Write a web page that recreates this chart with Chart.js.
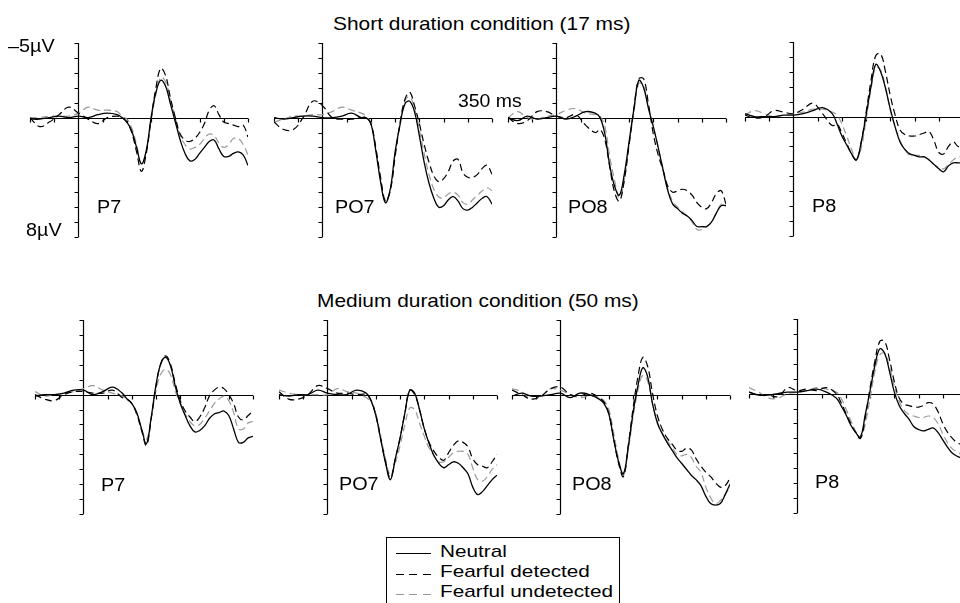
<!DOCTYPE html>
<html>
<head>
<meta charset="utf-8">
<script src="https://cdn.jsdelivr.net/npm/chart.js@4/dist/chart.umd.min.js"></script>
<style>
  html, body { margin: 0; padding: 0; background: #fff; }
  #page { position: relative; width: 960px; height: 603px; overflow: hidden; font-family: "Liberation Sans", Arial, sans-serif; color: #000; }
  canvas.panel { position: absolute; }
  .txt { position: absolute; white-space: nowrap; transform-origin: 0 0; line-height: 1; }
  #legend { position: absolute; left: 386px; top: 537px; width: 234px; height: 90px; border: 1px solid #000; box-sizing: border-box; }
  .lg-line { position: absolute; left: 9px; width: 35px; height: 1px; }
</style>
</head>
<body>
<div id="page"></div>
<script>
// Time points (ms)
const times = [-100, -80, -60, -40, -20, 0, 20, 40, 60, 80,
  90, 100, 110, 120, 130, 140, 150, 160, 170, 180, 190, 200, 210, 220, 230,
  240, 250, 260, 270, 280, 290, 300, 310, 320, 330, 340, 350];

// Short duration condition (17 ms), values in µV
const shortP7Neutral = [0.1, 0.1, 0.0, -0.1, 0.0, -0.1, 0.0, -0.2, -0.3, -0.2, 0.0, 0.3, 0.9, 2.0, 3.1, 2.2, 0.0, -1.7, -2.5, -2.1, -0.9, 0.3, 1.5, 2.4, 2.9, 2.8, 2.4, 2.0, 1.6, 1.5, 2.1, 2.6, 2.6, 2.4, 2.3, 2.5, 3.2];
const shortP7Detected = [0.0, 0.6, 0.3, -0.2, -0.7, -0.3, 0.1, 0.4, 0.0, -0.1, 0.0, 0.3, 1.0, 2.3, 3.6, 2.4, 0.1, -2.0, -3.3, -2.8, -1.3, 0.0, 1.1, 1.5, 1.6, 1.4, 1.0, 0.4, -0.5, -0.8, -0.2, 0.3, 0.4, 0.5, 0.6, 0.5, 1.3];
const shortP7Undetected = [0.0, 0.0, -0.1, -0.1, -0.1, -0.3, -0.7, -0.5, -0.5, -0.4, -0.1, 0.1, 0.7, 1.8, 3.1, 2.3, 0.2, -1.6, -2.7, -2.4, -1.2, 0.0, 1.2, 1.8, 2.1, 2.0, 1.8, 1.4, 1.1, 1.2, 1.7, 2.0, 1.8, 1.4, 1.4, 1.8, 2.5];

const shortPO7Neutral = [0.0, 0.1, 0.0, -0.1, -0.1, 0.0, 0.0, -0.1, -0.3, 0.0, 0.0, 0.4, 2.2, 4.3, 5.7, 4.8, 2.3, 0.5, -0.9, -1.1, -0.4, 1.2, 3.0, 4.4, 5.4, 6.0, 5.9, 5.5, 5.3, 5.6, 6.1, 6.2, 6.0, 5.7, 5.4, 5.3, 5.8];
const shortPO7Detected = [0.3, 0.8, 0.8, 0.0, -1.1, -0.8, 0.0, 0.1, 0.1, 0.0, 0.0, 0.4, 2.0, 4.0, 5.6, 4.9, 2.6, 0.4, -1.2, -1.7, -0.8, 0.4, 1.8, 3.0, 3.9, 4.3, 4.1, 3.6, 2.9, 2.8, 3.7, 4.0, 4.0, 3.8, 3.4, 3.2, 3.8];
const shortPO7Undetected = [0.3, 0.1, -0.1, -0.1, -0.2, -0.2, -0.4, -0.7, -0.5, -0.3, -0.1, 0.4, 2.0, 4.1, 5.6, 4.9, 2.5, 0.4, -1.1, -1.4, -0.6, 0.8, 2.4, 3.8, 4.8, 5.3, 5.4, 5.1, 5.0, 5.2, 5.7, 5.8, 5.5, 5.2, 4.9, 4.7, 4.9];

const shortPO8Neutral = [0.0, 0.2, -0.1, 0.1, 0.0, -0.1, 0.1, -0.1, -0.4, -0.3, 0.0, 1.1, 3.2, 4.6, 5.2, 3.8, 1.6, -0.6, -2.5, -2.0, -0.6, 0.6, 2.0, 3.5, 4.9, 5.8, 6.1, 6.4, 6.6, 6.9, 7.3, 7.3, 7.3, 7.0, 6.4, 5.9, 5.9];
const shortPO8Detected = [0.0, 0.4, 0.2, -0.4, -0.4, -0.1, 0.0, -0.2, 0.5, 1.0, 0.8, 1.5, 3.3, 5.0, 5.6, 4.2, 1.8, -0.6, -2.6, -2.6, -0.9, 1.1, 2.5, 3.5, 4.6, 5.0, 4.9, 4.8, 4.9, 5.2, 5.7, 6.0, 6.1, 5.7, 5.1, 4.9, 5.8];
const shortPO8Undetected = [0.0, -0.4, 0.0, 0.1, -0.1, -0.2, -0.5, -0.6, -0.3, -0.2, -0.1, 0.6, 2.6, 4.2, 5.4, 4.2, 1.8, -0.4, -2.3, -2.1, -0.7, 0.6, 2.0, 3.4, 4.8, 5.6, 6.0, 6.3, 6.6, 7.0, 7.5, 7.5, 7.3, 7.0, 6.4, 5.8, 5.8];

const shortP8Neutral = [-0.2, 0.0, 0.0, 0.0, -0.1, -0.1, -0.2, -0.4, -0.6, -0.2, 0.5, 1.3, 1.9, 2.5, 2.9, 1.7, -0.1, -2.0, -3.5, -3.0, -1.9, -0.5, 0.7, 1.7, 2.2, 2.5, 2.6, 2.7, 2.7, 2.9, 3.2, 3.5, 3.7, 3.3, 3.1, 3.1, 3.1];
const shortP8Detected = [-0.1, 0.1, 0.0, -0.4, -0.3, -0.2, -0.5, -0.9, -0.2, 0.6, 0.5, 1.1, 1.8, 2.5, 2.9, 1.7, -0.3, -2.4, -4.1, -4.2, -3.0, -1.4, -0.1, 0.9, 1.2, 1.3, 1.3, 1.2, 1.1, 1.0, 1.6, 2.4, 2.5, 2.0, 1.7, 2.0, 2.0];
const shortP8Undetected = [-0.1, -0.4, -0.2, 0.0, -0.1, -0.2, -0.3, -0.5, -0.5, -0.3, -0.1, 0.5, 1.3, 2.2, 2.9, 2.1, 0.2, -1.8, -3.3, -3.1, -2.0, -0.4, 0.7, 1.6, 2.2, 2.6, 2.6, 2.6, 2.7, 2.9, 3.2, 3.4, 3.5, 3.2, 2.9, 2.7, 2.7];

// Medium duration condition (50 ms)
const mediumP7Neutral = [0.1, 0.0, 0.0, -0.1, -0.3, -0.3, 0.0, -0.2, -0.5, -0.1, 0.3, 0.6, 1.2, 2.3, 3.3, 1.5, -0.7, -2.1, -2.5, -1.9, -0.5, 0.6, 1.4, 2.1, 2.5, 2.4, 2.1, 1.6, 1.3, 1.2, 1.1, 1.4, 2.3, 3.2, 3.2, 2.9, 2.8];
const mediumP7Detected = [0.0, 0.3, 0.4, 0.0, -0.2, -0.2, -0.1, -0.1, -0.3, 0.2, 0.3, 0.6, 1.3, 2.4, 3.4, 1.6, -0.6, -2.1, -2.6, -2.0, -0.7, 0.4, 1.1, 1.5, 1.8, 1.5, 0.9, 0.1, -0.3, -0.5, -0.4, 0.0, 0.6, 1.5, 1.7, 1.4, 1.1];
const mediumP7Undetected = [-0.2, 0.1, 0.0, -0.1, -0.2, -0.4, -0.6, -0.3, -0.1, 0.1, 0.3, 0.6, 1.3, 2.3, 3.0, 1.5, -0.3, -1.4, -1.7, -1.3, -0.2, 0.6, 1.3, 1.8, 2.1, 2.0, 1.6, 1.1, 0.6, 0.3, 0.1, 0.4, 1.2, 2.3, 2.3, 1.9, 1.8];

const mediumPO7Neutral = [0.0, 0.1, 0.0, 0.0, -0.3, -0.1, 0.0, 0.0, -0.3, -0.1, 0.4, 1.4, 3.0, 4.6, 5.7, 4.3, 2.9, 1.2, -0.3, -0.1, 1.0, 2.3, 3.3, 4.1, 4.6, 4.9, 4.7, 4.5, 4.6, 4.9, 5.3, 6.2, 6.7, 6.5, 6.1, 5.7, 5.4];
const mediumPO7Detected = [-0.2, 0.3, 0.3, 0.0, -0.6, -0.4, -0.1, -0.1, 0.0, 0.0, 0.4, 1.4, 3.0, 4.5, 5.6, 4.3, 2.9, 1.2, -0.3, 0.0, 1.0, 2.3, 3.2, 3.8, 4.2, 4.4, 3.9, 3.4, 3.1, 3.2, 3.5, 4.3, 4.7, 4.8, 4.9, 4.5, 4.0];
const mediumPO7Undetected = [-0.3, -0.1, 0.0, 0.0, 0.0, 0.0, -0.4, -0.2, -0.1, 0.2, 0.5, 1.3, 2.8, 4.3, 5.4, 4.6, 3.4, 2.0, 0.9, 1.0, 1.9, 2.8, 3.6, 4.1, 4.5, 4.5, 4.2, 3.9, 3.8, 3.8, 4.0, 4.9, 5.7, 5.8, 5.5, 5.0, 4.7];

const mediumPO8Neutral = [0.1, -0.1, 0.1, 0.1, 0.0, -0.1, 0.2, -0.1, 0.0, 0.3, 0.6, 1.3, 3.0, 4.5, 5.3, 3.5, 1.2, -0.6, -1.8, -1.2, 0.6, 1.9, 2.6, 3.2, 3.7, 4.2, 4.6, 5.0, 5.4, 5.7, 6.1, 6.8, 7.3, 7.4, 7.3, 6.7, 6.0];
const mediumPO8Detected = [-0.3, 0.0, 0.3, 0.1, -0.4, -0.5, 0.0, 0.1, -0.1, 0.2, 0.5, 1.3, 3.0, 4.6, 5.5, 3.4, 0.9, -1.2, -2.5, -1.9, -0.1, 1.4, 2.3, 2.9, 3.3, 3.7, 3.8, 3.6, 3.7, 4.3, 4.8, 5.2, 5.5, 5.9, 6.2, 6.1, 5.6];
const mediumPO8Undetected = [-0.4, -0.2, 0.3, 0.1, -0.4, -0.3, 0.0, 0.2, 0.1, 0.2, 0.4, 1.0, 2.6, 4.3, 5.4, 3.7, 1.5, -0.3, -1.3, -0.9, 0.6, 1.8, 2.6, 3.1, 3.5, 4.0, 4.1, 4.0, 4.2, 4.8, 5.2, 6.2, 6.9, 7.3, 7.1, 6.7, 6.2];

const mediumP8Neutral = [-0.1, 0.1, 0.1, 0.0, -0.1, -0.1, -0.2, -0.3, -0.1, 0.3, 0.8, 1.4, 2.1, 2.6, 2.9, 1.4, -0.2, -1.9, -3.0, -2.7, -1.5, -0.1, 0.8, 1.3, 1.7, 2.2, 2.4, 2.5, 2.4, 2.3, 2.6, 3.1, 3.6, 4.0, 4.2, 4.3, 4.3];
const mediumP8Detected = [-0.1, 0.1, 0.1, 0.2, -0.4, -0.2, -0.3, -0.2, -0.4, 0.0, 0.6, 1.3, 2.0, 2.6, 3.0, 1.6, -0.4, -2.2, -3.5, -3.5, -2.3, -0.8, 0.3, 0.7, 0.8, 0.9, 0.9, 0.8, 0.6, 0.7, 1.2, 2.0, 2.6, 3.0, 3.3, 3.4, 3.4];
const mediumP8Undetected = [-0.4, -0.1, 0.3, 0.3, 0.0, -0.1, -0.2, -0.4, -0.3, -0.1, 0.3, 1.0, 1.8, 2.5, 3.0, 2.0, 0.3, -1.5, -2.6, -2.7, -1.8, -0.5, 0.5, 1.1, 1.4, 1.5, 1.6, 1.6, 1.5, 1.6, 2.0, 2.7, 3.3, 3.7, 3.9, 4.1, 4.1];

const conditionNames = ['Neutral', 'Fearful detected', 'Fearful undetected'];
const yTicks = [-5, -4, -3, -2, -1, 0, 1, 2, 3, 4, 5, 6, 7, 8];
const xTicks = [-100, -50, 50, 100, 150, 200, 250, 300, 350];

// panel layout: position of the y axis (x px) and the -5 µV tick (y px)
const PAD = 8, PW = 218, PH = 194;
const panels = [
  { label: 'P7',  ax: 78,  top: 43,  series: [shortP7Neutral, shortP7Detected, shortP7Undetected] },
  { label: 'PO7', ax: 322, top: 43,  series: [shortPO7Neutral, shortPO7Detected, shortPO7Undetected] },
  { label: 'PO8', ax: 556, top: 43,  series: [shortPO8Neutral, shortPO8Detected, shortPO8Undetected] },
  { label: 'P8',  ax: 793, top: 42,  series: [shortP8Neutral, shortP8Detected, shortP8Undetected] },
  { label: 'P7',  ax: 83,  top: 320, series: [mediumP7Neutral, mediumP7Detected, mediumP7Undetected] },
  { label: 'PO7', ax: 327, top: 320, series: [mediumPO7Neutral, mediumPO7Detected, mediumPO7Undetected] },
  { label: 'PO8', ax: 560, top: 320, series: [mediumPO8Neutral, mediumPO8Detected, mediumPO8Undetected] },
  { label: 'P8',  ax: 797, top: 319, series: [mediumP8Neutral, mediumP8Detected, mediumP8Undetected] }
];

const styles = [
  { borderColor: '#000', borderWidth: 1.3, borderDash: [] },
  { borderColor: '#000', borderWidth: 1.2, borderDash: [7, 4] },
  { borderColor: '#9a9a9a', borderWidth: 1.2, borderDash: [7, 4] }
];

// draws the axis cross with small ticks
const axesPlugin = {
  id: 'erpAxes',
  beforeDatasetsDraw(chart) {
    const { ctx, scales: { x, y } } = chart;
    const x0 = Math.round(x.getPixelForValue(0)) + 0.5;
    const y0 = Math.round(y.getPixelForValue(0)) + 0.5;
    ctx.save();
    ctx.strokeStyle = '#000';
    ctx.lineWidth = 1.2;
    ctx.beginPath();
    ctx.moveTo(x0, y.getPixelForValue(-5));
    ctx.lineTo(x0, y.getPixelForValue(8));
    yTicks.forEach(v => {
      const py = Math.round(y.getPixelForValue(v)) + 0.5;
      ctx.moveTo(x0 - 4, py);
      ctx.lineTo(x0, py);
    });
    ctx.moveTo(x.getPixelForValue(-100), y0);
    ctx.lineTo(x.getPixelForValue(350), y0);
    xTicks.forEach(t => {
      const px = Math.round(x.getPixelForValue(t)) + 0.5;
      ctx.moveTo(px, y0);
      ctx.lineTo(px, y0 + 4);
    });
    ctx.stroke();
    ctx.restore();
  }
};

const page = document.getElementById('page');

function addText(str, left, baseline, size, sx) {
  const d = document.createElement('div');
  d.className = 'txt';
  d.textContent = str;
  d.style.fontSize = size + 'px';
  d.style.left = left + 'px';
  d.style.top = (baseline - 0.8465 * size) + 'px';
  d.style.transform = 'scaleX(' + sx + ')';
  page.appendChild(d);
}

panels.forEach(p => {
  const c = document.createElement('canvas');
  c.className = 'panel';
  c.width = PW + 2 * PAD;
  c.height = PH + 2 * PAD;
  c.style.left = (p.ax - 48.5 - PAD) + 'px';
  c.style.top = (p.top - PAD) + 'px';
  page.appendChild(c);

  new Chart(c, {
    type: 'line',
    data: {
      datasets: p.series.map((vals, i) => ({
        label: conditionNames[i],
        data: vals.map((v, k) => ({ x: times[k], y: v })),
        ...styles[i],
        pointRadius: 0,
        tension: 0.4,
        fill: false
      }))
    },
    options: {
      responsive: false,
      animation: false,
      events: [],
      layout: { padding: PAD },
      plugins: { legend: { display: false }, tooltip: { enabled: false } },
      scales: {
        x: { type: 'linear', min: -100, max: 350, display: false },
        y: { type: 'linear', min: -5, max: 8, reverse: true, display: false }
      }
    },
    plugins: [axesPlugin]
  });
});

// titles and labels
addText('Short duration condition (17 ms)', 333, 30, 19, 1.1);
addText('Medium duration condition (50 ms)', 317, 307, 19, 1.1);
addText('\u20135\u00b5V', 8, 52, 18, 1.1);
addText('8\u00b5V', 26, 236, 18, 1.1);
addText('350 ms', 458, 107, 18, 1.08);

const labelPos = [[97, 213], [335, 213], [568, 213], [812, 212], [101, 491], [339, 490], [572, 490], [815, 488]];
panels.forEach((p, i) => addText(p.label, labelPos[i][0], labelPos[i][1], 18, 1.1));

// legend box
const legend = document.createElement('div');
legend.id = 'legend';
page.appendChild(legend);
const legendRows = [
  { y: 15, bg: '#000' },
  { y: 36, bg: 'repeating-linear-gradient(90deg, #000 0 8px, transparent 8px 13.5px)' },
  { y: 56, bg: 'repeating-linear-gradient(90deg, #9a9a9a 0 8px, transparent 8px 13.5px)' }
];
legendRows.forEach((r, i) => {
  const l = document.createElement('div');
  l.className = 'lg-line';
  l.style.top = r.y + 'px';
  l.style.background = r.bg;
  legend.appendChild(l);
  addText(conditionNames[i], 440, 557 + i * 20.4, 17, 1.22);
});
</script>
</body>
</html>
